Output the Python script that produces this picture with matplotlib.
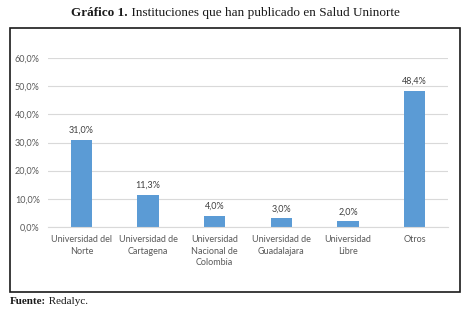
import matplotlib.pyplot as plt
from matplotlib.patches import Rectangle

# data
categories = ["Universidad del\nNorte", "Universidad de\nCartagena",
              "Universidad\nNacional de\nColombia", "Universidad de\nGuadalajara",
              "Universidad\nLibre", "Otros"]
values = [31.0, 11.3, 4.0, 3.0, 2.0, 48.4]
yticks = [0, 10, 20, 30, 40, 50, 60]

bar_color = "#5B9BD5"
text_gray = "#595959"
grid_gray = "#D9D9D9"
dark = "#1a1a1a"
W, H = 471, 316

fig = plt.figure(figsize=(W / 100, H / 100), dpi=100)
ax = fig.add_axes([0.102, 0.282, 0.849, 0.534])

x = range(len(categories))
ax.bar(x, values, width=0.32, color=bar_color, zorder=3)
for xi, v in zip(x, values):
    ax.text(xi, v + 1.8, f"{v:.1f}%".replace(".", ","), ha="center", va="bottom",
            fontsize=6.5, color="#404040", family="Lato")

ax.set_ylim(0, 60)
ax.set_xlim(-0.5, len(categories) - 0.5)
ax.set_yticks(yticks)
ax.set_yticklabels([f"{t:.1f}%".replace(".", ",") for t in yticks])
ax.set_xticks(list(x))
ax.set_xticklabels(categories, linespacing=1.35)
ax.yaxis.grid(True, color=grid_gray, linewidth=0.8, zorder=0)
ax.tick_params(length=0, labelsize=6.5, colors=text_gray, pad=6)
for lab in ax.get_xticklabels() + ax.get_yticklabels():
    lab.set_family("Lato")
for s in ["top", "right", "left"]:
    ax.spines[s].set_visible(False)
ax.spines["bottom"].set_color(grid_gray)
ax.spines["bottom"].set_zorder(4)

# outer frame around the chart
fig.patches.append(Rectangle((10 / W, 1 - 292 / H), 450 / W, 264 / H,
                             transform=fig.transFigure, fill=False,
                             edgecolor=dark, linewidth=1.2))

# title (bold prefix + regular rest) and source line
renderer = fig.canvas.get_renderer()
serif = dict(family="Liberation Serif", color=dark, va="center")
t1 = fig.text(0, 1 - 13 / H, "Gráfico 1.", fontsize=9.5, weight="bold", ha="left", **serif)
t2 = fig.text(0, 1 - 13 / H, " Instituciones que han publicado en Salud Uninorte",
              fontsize=9.5, ha="left", **serif)
w1 = t1.get_window_extent(renderer).width
w2 = t2.get_window_extent(renderer).width
x0 = (W - w1 - w2) / 2
t1.set_x(x0 / W)
t2.set_x((x0 + w1) / W)

f1 = fig.text(10 / W, 1 - 302 / H, "Fuente:", fontsize=8, weight="bold", ha="left", **serif)
wf = f1.get_window_extent(renderer).width
fig.text((10 + wf) / W, 1 - 302 / H, " Redalyc.", fontsize=8, ha="left", **serif)

fig.savefig("out.png", dpi=100)
